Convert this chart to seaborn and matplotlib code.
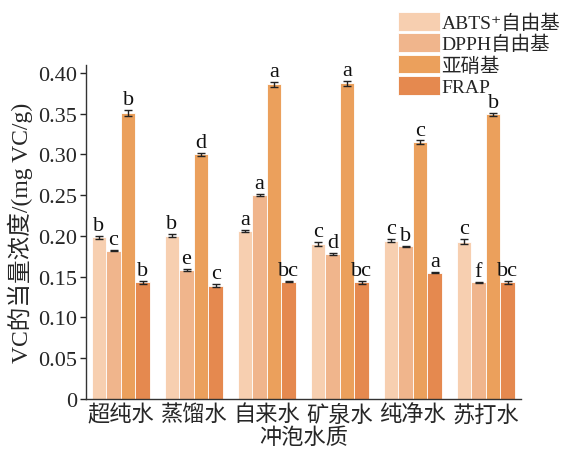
import numpy as np
import pandas as pd
import matplotlib
matplotlib.use("Agg")
import matplotlib.pyplot as plt
import seaborn as sns

categories = ["超纯水", "蒸馏水", "自来水", "矿泉水", "纯净水", "苏打水"]
series = ["ABTS⁺自由基", "DPPH自由基", "亚硝基", "FRAP"]
abts = [0.198, 0.200, 0.206, 0.190, 0.194, 0.193]
dpph = [0.182, 0.158, 0.250, 0.178, 0.187, 0.143]
nitrite = [0.351, 0.300, 0.386, 0.387, 0.315, 0.349]
frap = [0.143, 0.139, 0.144, 0.143, 0.155, 0.143]
abts_err = [0.002, 0.002, 0.001, 0.003, 0.002, 0.003]
dpph_err = [0.001, 0.001, 0.001, 0.001, 0.001, 0.001]
nitrite_err = [0.004, 0.002, 0.003, 0.003, 0.002, 0.002]
frap_err = [0.002, 0.002, 0.001, 0.002, 0.001, 0.002]
abts_lbl = ["b", "b", "a", "c", "c", "c"]
dpph_lbl = ["c", "e", "a", "d", "b", "f"]
nitrite_lbl = ["b", "d", "a", "a", "c", "b"]
frap_lbl = ["b", "c", "bc", "bc", "a", "bc"]
colors = ["#F7CFB0", "#F0B58C", "#EBA05C", "#E5894F"]

sns.set_style("ticks")
plt.rcParams['font.family'] = ['Liberation Serif', 'DejaVu Serif', 'Noto Sans CJK SC']

vals = [abts, dpph, nitrite, frap]
errs = [abts_err, dpph_err, nitrite_err, frap_err]
lbls = [abts_lbl, dpph_lbl, nitrite_lbl, frap_lbl]
rows = []
for s, v in zip(series, vals):
    for c, y in zip(categories, v):
        rows.append({"cat": c, "series": s, "val": y})
df = pd.DataFrame(rows)

fig = plt.figure(figsize=(5.68, 4.56), dpi=100)
ax = fig.add_axes([0.151, 0.123, 0.766, 0.733])
sns.barplot(data=df, x="cat", y="val", hue="series", palette=colors,
            order=categories, hue_order=series, width=0.8, errorbar=None,
            edgecolor="white", linewidth=0.6, ax=ax, saturation=1)

bar_containers = list(ax.containers)
for i, cont in enumerate(bar_containers):
    for j, p in enumerate(cont.patches):
        xc = p.get_x() + p.get_width() / 2
        h = p.get_height()
        ax.errorbar(xc, h, yerr=errs[i][j], fmt="none", ecolor="#222222",
                    elinewidth=1.0, capsize=3, capthick=1.0)
        ax.text(xc, h + errs[i][j] + 0.001, lbls[i][j], ha="center", va="bottom",
                fontsize=16, color="#111111")

ax.set_ylim(0, 0.41)
ax.set_yticks(np.arange(0, 0.401, 0.05))
ax.set_yticklabels(["0"] + [f"{t:.2f}" for t in np.arange(0.05, 0.401, 0.05)])
ax.set_xlim(-0.48, 5.48)
ax.tick_params(axis="y", labelsize=16, direction="out", length=4, width=1, pad=2)
ax.tick_params(axis="x", labelsize=16, length=0, pad=4)
ax.set_xlabel("冲泡水质", fontsize=16, labelpad=1)
ax.set_ylabel("VC的当量浓度/(mg VC/g)", fontsize=17, labelpad=4)
sns.despine(ax=ax)
for sp in ["left", "bottom"]:
    ax.spines[sp].set_color("#333333")
    ax.spines[sp].set_linewidth(1.0)

leg = ax.legend(loc="upper left", bbox_to_anchor=(0.717, 1.157), frameon=False,
                fontsize=14, handlelength=2.15, handleheight=1.1,
                handletextpad=0.1, labelspacing=0.07, borderaxespad=0,
                borderpad=0)
fig.savefig("out.png", dpi=100)
